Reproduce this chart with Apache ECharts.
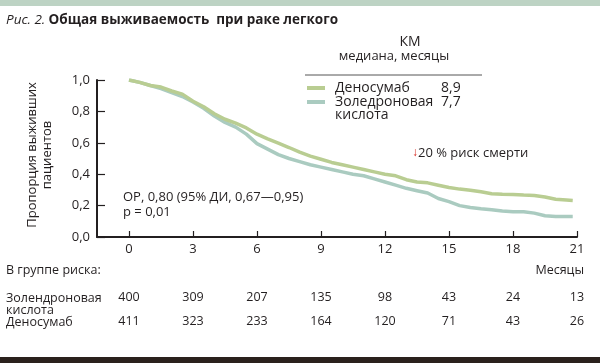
<!DOCTYPE html>
<html><head><meta charset="utf-8">
<script src="https://cdn.jsdelivr.net/npm/echarts@6/dist/echarts.min.js"></script>
<style>html,body{margin:0;padding:0;background:#fff}#c{width:600px;height:363px}</style>
</head><body><div id="c"></div>
<script>
const months = [0,0.5,1,1.5,2,2.5,3,3.5,4,4.5,5,5.5,6,6.5,7,7.5,8,8.5,9,9.5,10,10.5,11,11.5,12,12.5,13,13.5,14,14.5,15,15.5,16,16.5,17,17.5,18,18.5,19,19.5,20,20.5,20.8];
const denosumab = [1.0,0.985,0.965,0.955,0.93,0.91,0.865,0.83,0.785,0.75,0.725,0.695,0.655,0.625,0.598,0.57,0.54,0.515,0.495,0.475,0.46,0.445,0.43,0.415,0.40,0.39,0.365,0.35,0.345,0.33,0.315,0.305,0.298,0.288,0.276,0.272,0.27,0.267,0.265,0.255,0.24,0.235,0.232];
const zoledronic = [1.0,0.985,0.965,0.945,0.92,0.895,0.86,0.82,0.77,0.73,0.70,0.655,0.595,0.56,0.525,0.50,0.48,0.46,0.445,0.43,0.415,0.40,0.39,0.37,0.35,0.33,0.31,0.295,0.28,0.245,0.225,0.20,0.188,0.18,0.173,0.165,0.161,0.161,0.152,0.135,0.13,0.13,0.13];
const xTicks = [0,3,6,9,12,15,18,21];
const riskZol = [400,309,207,135,98,43,24,13];
const riskDen = [411,323,233,164,120,71,43,26];
const medians = {den:'8,9', zol:'7,7'};

const GREEN = '#b9cd92', BLUE = '#aacbc0', INK = '#231f20';
const FONT = 'Open Sans';
const pairs = (v) => months.map((m,i)=>[m, v[i]]);
const riskFmt = (arr) => (val) => { const i = xTicks.indexOf(Math.round(val)); return i>=0 ? String(arr[i]) : ''; };

const chart = echarts.init(document.getElementById('c'));
chart.setOption({
  animation:false,
  textStyle:{fontFamily:FONT,color:INK},
  grid:{left:97,right:23,top:80,bottom:126},
  xAxis:[
    {type:'value',min:-1.5,max:21,
     axisLine:{show:true,onZero:false,lineStyle:{color:INK,width:2}},
     axisTick:{show:true,inside:true,length:6,lineStyle:{color:INK,width:1.2},customValues:xTicks},
     axisLabel:{show:true,customValues:xTicks,color:INK,fontSize:13,margin:6,fontFamily:FONT},
     splitLine:{show:false}},
    {type:'value',min:-1.5,max:21,position:'bottom',offset:54,
     axisLine:{show:false},axisTick:{show:false},splitLine:{show:false},
     axisLabel:{customValues:xTicks,formatter:riskFmt(riskZol),color:INK,fontSize:12.5,margin:0,fontFamily:FONT}},
    {type:'value',min:-1.5,max:21,position:'bottom',offset:78,
     axisLine:{show:false},axisTick:{show:false},splitLine:{show:false},
     axisLabel:{customValues:xTicks,formatter:riskFmt(riskDen),color:INK,fontSize:12.5,margin:0,fontFamily:FONT}}
  ],
  yAxis:{type:'value',min:0,max:1,interval:0.2,
    axisLine:{show:true,onZero:false,lineStyle:{color:INK,width:2}},
    axisTick:{show:true,inside:true,length:8,lineStyle:{color:INK,width:1.2}},
    axisLabel:{formatter:(v)=>v.toFixed(1).replace('.',','),color:INK,fontSize:13,margin:7,fontFamily:FONT},
    splitLine:{show:false}},
  series:[
    {name:'Золедроновая кислота',type:'line',showSymbol:false,data:pairs(zoledronic),
     lineStyle:{color:BLUE,width:3.5},itemStyle:{color:BLUE},z:2},
    {name:'Деносумаб',type:'line',showSymbol:false,data:pairs(denosumab),
     lineStyle:{color:GREEN,width:3.5},itemStyle:{color:GREEN},z:3}
  ],
  graphic:[
    {type:'rect',left:0,top:0,shape:{width:600,height:6},style:{fill:'#bdd3c4'}},
    {type:'rect',left:0,top:357,shape:{width:600,height:6},style:{fill:'#2a211c'}},
    {type:'text',left:6,top:13,style:{text:'{i|Рис. 2.} {b|Общая выживаемость  при раке легкого}',
      rich:{i:{fontStyle:'italic',fontSize:13.5,fontFamily:FONT,fill:INK},b:{fontWeight:'bold',fontSize:13.5,fontFamily:FONT,fill:INK}}}},
    {type:'text',x:40,y:155,rotation:Math.PI/2,style:{text:'Пропорция выживших\nпациентов',align:'center',verticalAlign:'middle',fontSize:13,lineHeight:15,fontFamily:FONT,fill:INK}},
    {type:'text',x:410,y:42,style:{text:'КМ',align:'center',verticalAlign:'middle',fontSize:14,fontFamily:FONT,fill:INK}},
    {type:'text',x:394,y:56,style:{text:'медиана, месяцы',align:'center',verticalAlign:'middle',fontSize:13,fontFamily:FONT,fill:INK}},
    {type:'line',shape:{x1:305,y1:75,x2:482,y2:75},style:{stroke:'#555',lineWidth:1}},
    {type:'line',shape:{x1:307,y1:88,x2:325,y2:88},style:{stroke:GREEN,lineWidth:4}},
    {type:'line',shape:{x1:307,y1:102,x2:325,y2:102},style:{stroke:BLUE,lineWidth:4}},
    {type:'text',x:335,y:88,style:{text:'Деносумаб',verticalAlign:'middle',fontSize:14,fontFamily:FONT,fill:INK}},
    {type:'text',x:335,y:102,style:{text:'Золедроновая',verticalAlign:'middle',fontSize:14,fontFamily:FONT,fill:INK}},
    {type:'text',x:335,y:115,style:{text:'кислота',verticalAlign:'middle',fontSize:14,fontFamily:FONT,fill:INK}},
    {type:'text',x:441,y:88,style:{text:medians.den,verticalAlign:'middle',fontSize:14,fontFamily:FONT,fill:INK}},
    {type:'text',x:441,y:102,style:{text:medians.zol,verticalAlign:'middle',fontSize:14,fontFamily:FONT,fill:INK}},
    {type:'text',x:412,y:153,style:{text:'{a|↓}20 % риск смерти',verticalAlign:'middle',fontSize:13,fontFamily:FONT,fill:INK,
      rich:{a:{fill:'#d7261e',fontSize:12,fontFamily:FONT}}}},
    {type:'text',x:123,y:197,style:{text:'ОР, 0,80 (95% ДИ, 0,67—0,95)',verticalAlign:'middle',fontSize:13,fontFamily:FONT,fill:INK}},
    {type:'text',x:123,y:212,style:{text:'p = 0,01',verticalAlign:'middle',fontSize:13,fontFamily:FONT,fill:INK}},
    {type:'text',x:6,y:270,style:{text:'В группе риска:',verticalAlign:'middle',fontSize:12.5,fontFamily:FONT,fill:INK}},
    {type:'text',x:584,y:270,style:{text:'Месяцы',align:'right',verticalAlign:'middle',fontSize:12.5,fontFamily:FONT,fill:INK}},
    {type:'text',x:6,y:298,style:{text:'Золендроновая',verticalAlign:'middle',fontSize:12.5,fontFamily:FONT,fill:INK}},
    {type:'text',x:6,y:310,style:{text:'кислота',verticalAlign:'middle',fontSize:12.5,fontFamily:FONT,fill:INK}},
    {type:'text',x:6,y:322,style:{text:'Деносумаб',verticalAlign:'middle',fontSize:12.5,fontFamily:FONT,fill:INK}}
  ]
});
</script></body></html>
